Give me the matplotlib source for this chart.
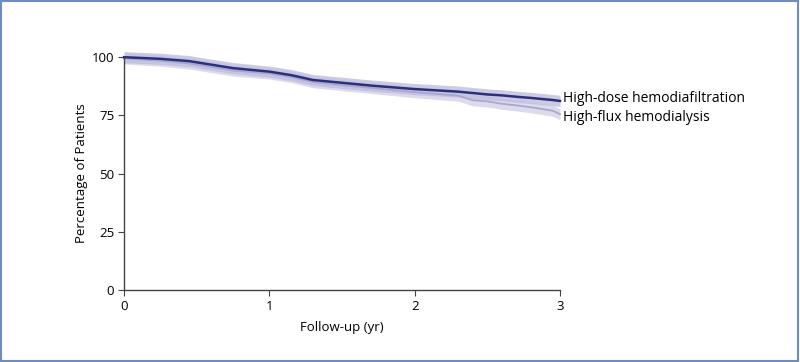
import matplotlib.pyplot as plt
import matplotlib.patches as mpatches
import numpy as np

plt.rcParams['font.family'] = ['Open Sans', 'DejaVu Sans']

# follow-up time in years
years = [0, 0.25, 0.45, 0.6, 0.75, 1.0, 1.15, 1.3, 1.5, 1.7, 2.0, 2.3, 2.4, 2.5, 2.6, 2.7, 2.8, 2.95, 3.0]
# high-dose hemodiafiltration
hdf = [100, 99.3, 98.3, 96.8, 95.3, 93.8, 92.3, 90.2, 89.0, 87.8, 86.3, 85.2, 84.6, 84.0, 83.6, 83.0, 82.5, 81.6, 81.2]
# high-flux hemodialysis
hd = [99.5, 98.5, 97.3, 95.8, 94.3, 93.0, 91.5, 89.3, 88.0, 86.8, 85.0, 83.5, 81.5, 81.0, 80.0, 79.3, 78.5, 77.0, 75.5]
ci = 2.4

navy = '#2c2f7c'
light = '#a9a7cf'

fig = plt.figure(figsize=(8, 3.62), dpi=100)
ax = fig.add_axes([0.155, 0.199, 0.545, 0.643])

x = np.array(years)
ax.fill_between(x, np.array(hd) - ci, np.array(hd) + ci, color='#d6d5ea', alpha=0.85, lw=0, clip_on=False)
ax.fill_between(x, np.array(hdf) - ci, np.array(hdf) + ci, color='#bfbedd', alpha=0.8, lw=0, clip_on=False)
ax.plot(x, hd, color=light, lw=1.3, clip_on=False)
ax.plot(x, hdf, color=navy, lw=1.8, clip_on=False)

ax.set_xlim(0, 3)
ax.set_ylim(0, 100)
ax.set_xticks([0, 1, 2, 3])
ax.set_yticks([0, 25, 50, 75, 100])
for s in ['top', 'right']:
    ax.spines[s].set_visible(False)
for s in ['left', 'bottom']:
    ax.spines[s].set_color('#444444')
    ax.spines[s].set_linewidth(1.0)
ax.tick_params(direction='out', length=4, color='#444444', labelsize=9.5, pad=3)
ax.set_xlabel('Follow-up (yr)', fontsize=9.5, labelpad=6)
ax.set_ylabel('Percentage of Patients', fontsize=9.5, labelpad=3)

ax.text(3.02, 82.4, 'High-dose hemodiafiltration', fontsize=10, va='center', ha='left', clip_on=False)
ax.text(3.02, 74.2, 'High-flux hemodialysis', fontsize=10, va='center', ha='left', clip_on=False)

fig.patches.append(mpatches.Rectangle((0.001, 0.002), 0.997, 0.995, transform=fig.transFigure,
                                      fill=False, edgecolor='#6f8cc0', lw=1.5))

fig.savefig('out.png', dpi=100)
